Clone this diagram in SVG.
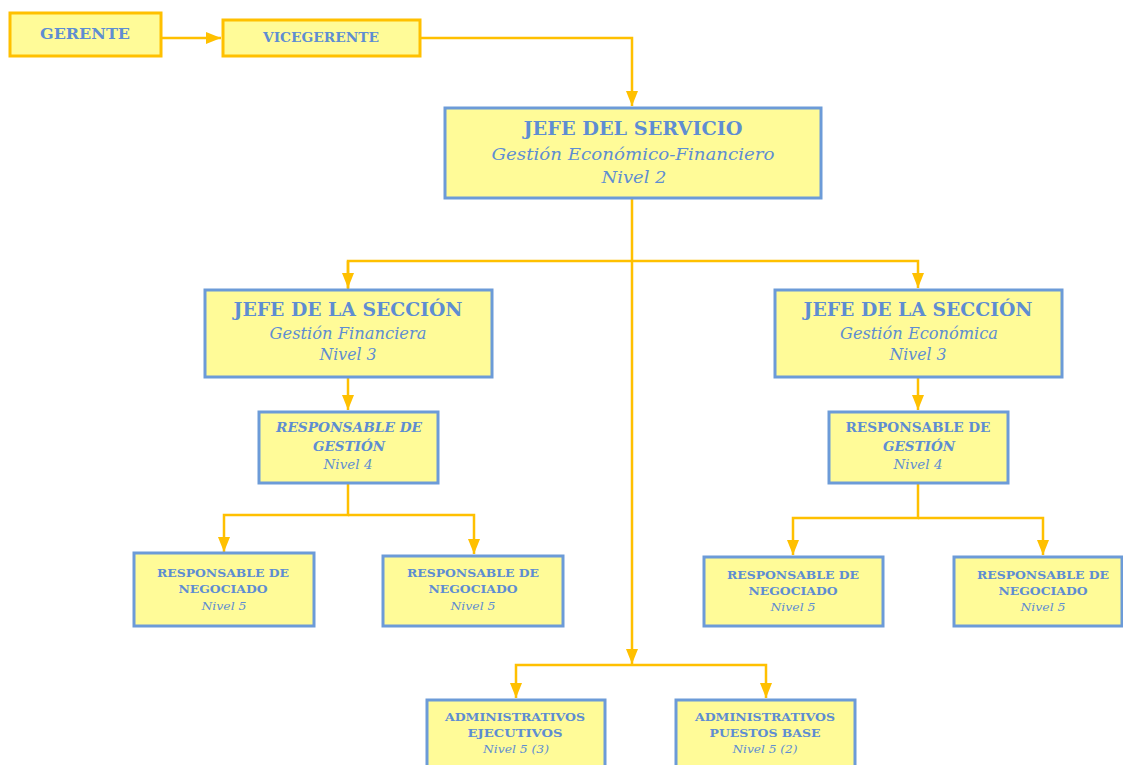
<svg xmlns="http://www.w3.org/2000/svg" width="1123" height="765" viewBox="0 0 1123 765">
<defs>
<marker id="ah" markerUnits="userSpaceOnUse" markerWidth="16" markerHeight="14" refX="15" refY="6" orient="auto">
<path d="M0,0 L15,6 L0,12 Z" fill="#FFC000"/>
</marker>
<style>
.box{fill:#FFFB98;stroke:#6C9BD8;stroke-width:3}
.gbox{fill:#FFFB98;stroke:#FFC000;stroke-width:3}
.con{fill:none;stroke:#FFC000;stroke-width:2.5}
text{font-family:"DejaVu Serif","Liberation Serif",serif;fill:#5E8DD2;text-anchor:middle}
.b{font-weight:bold}
.i{font-style:italic}
.h1{font-size:18px;font-weight:bold}
.s1{font-size:16px;font-style:italic}
.h2{font-size:13px;font-weight:bold}
.s2{font-size:12px;font-style:italic}
.h3{font-size:11px;font-weight:bold}
.s3{font-size:11px;font-style:italic}
</style>
</defs>
<rect width="1123" height="765" fill="#FFFFFF"/>
<g id="connectors">
<path class="con" d="M162,38 H221" marker-end="url(#ah)"/>
<path class="con" d="M420,38 H632 V106" marker-end="url(#ah)"/>
<path class="con" d="M632,198 V664" marker-end="url(#ah)"/>
<path class="con" d="M348,290 V261 H918 V288" marker-end="url(#ah)"/>
<path class="con" d="M348,261 V288" marker-end="url(#ah)"/>
<path class="con" d="M348,377 V410" marker-end="url(#ah)"/>
<path class="con" d="M918,377 V410" marker-end="url(#ah)"/>
<path class="con" d="M348,483 V515 H224 V552" marker-end="url(#ah)"/>
<path class="con" d="M348,515 H474 V554" marker-end="url(#ah)"/>
<path class="con" d="M918,483 V518 H793 V555" marker-end="url(#ah)"/>
<path class="con" d="M918,518 H1043 V555" marker-end="url(#ah)"/>
<path class="con" d="M632,665 H516 V698" marker-end="url(#ah)"/>
<path class="con" d="M632,665 H766 V698" marker-end="url(#ah)"/>
</g>
<g id="gerente">
<rect class="gbox" x="10" y="13" width="151" height="43"/>
<text x="85" y="39" class="b" font-size="14" textLength="90" lengthAdjust="spacingAndGlyphs">GERENTE</text>
</g>
<g id="vicegerente">
<rect class="gbox" x="223" y="20" width="197" height="36"/>
<text x="321" y="42" class="b" font-size="13" textLength="116" lengthAdjust="spacingAndGlyphs">VICEGERENTE</text>
</g>
<g id="jefe-servicio">
<rect class="box" x="445" y="108" width="376" height="90"/>
<text x="633" y="135" class="h1" textLength="219" lengthAdjust="spacingAndGlyphs">JEFE DEL SERVICIO</text>
<text x="633" y="160" class="s1" textLength="283" lengthAdjust="spacingAndGlyphs">Gestión Económico-Financiero</text>
<text x="634" y="183" class="s1" textLength="65" lengthAdjust="spacingAndGlyphs">Nivel 2</text>
</g>
<g id="jefe-seccion-financiera">
<rect class="box" x="205" y="290" width="287" height="87"/>
<text x="348" y="316" class="h1" textLength="229" lengthAdjust="spacingAndGlyphs">JEFE DE LA SECCIÓN</text>
<text x="348" y="339" class="s1" textLength="157" lengthAdjust="spacingAndGlyphs">Gestión Financiera</text>
<text x="348" y="360" class="s1" textLength="57" lengthAdjust="spacingAndGlyphs">Nivel 3</text>
</g>
<g id="jefe-seccion-economica">
<rect class="box" x="775" y="290" width="287" height="87"/>
<text x="918" y="316" class="h1" textLength="229" lengthAdjust="spacingAndGlyphs">JEFE DE LA SECCIÓN</text>
<text x="919" y="339" class="s1" textLength="158" lengthAdjust="spacingAndGlyphs">Gestión Económica</text>
<text x="918" y="360" class="s1" textLength="57" lengthAdjust="spacingAndGlyphs">Nivel 3</text>
</g>
<g id="resp-gestion-financiera">
<rect class="box" x="259" y="412" width="179" height="71"/>
<text x="349" y="432" class="h2 i" textLength="146" lengthAdjust="spacingAndGlyphs">RESPONSABLE DE</text>
<text x="349" y="451" class="h2 i" textLength="72" lengthAdjust="spacingAndGlyphs">GESTIÓN</text>
<text x="348" y="469" class="s2" textLength="49" lengthAdjust="spacingAndGlyphs">Nivel 4</text>
</g>
<g id="resp-gestion-economica">
<rect class="box" x="829" y="412" width="179" height="71"/>
<text x="918" y="432" class="h2" textLength="145" lengthAdjust="spacingAndGlyphs">RESPONSABLE DE</text>
<text x="919" y="451" class="h2 i" textLength="72" lengthAdjust="spacingAndGlyphs">GESTIÓN</text>
<text x="918" y="469" class="s2" textLength="49" lengthAdjust="spacingAndGlyphs">Nivel 4</text>
</g>
<g id="negociado-1">
<rect class="box" x="134" y="553" width="180" height="73"/>
<text x="223" y="577" class="h3" textLength="132" lengthAdjust="spacingAndGlyphs">RESPONSABLE DE</text>
<text x="223" y="593" class="h3" textLength="89" lengthAdjust="spacingAndGlyphs">NEGOCIADO</text>
<text x="224" y="610" class="s3" textLength="45" lengthAdjust="spacingAndGlyphs">Nivel 5</text>
</g>
<g id="negociado-2">
<rect class="box" x="383" y="556" width="180" height="70"/>
<text x="473" y="577" class="h3" textLength="132" lengthAdjust="spacingAndGlyphs">RESPONSABLE DE</text>
<text x="473" y="593" class="h3" textLength="89" lengthAdjust="spacingAndGlyphs">NEGOCIADO</text>
<text x="473" y="610" class="s3" textLength="45" lengthAdjust="spacingAndGlyphs">Nivel 5</text>
</g>
<g id="negociado-3">
<rect class="box" x="704" y="557" width="179" height="69"/>
<text x="793" y="579" class="h3" textLength="132" lengthAdjust="spacingAndGlyphs">RESPONSABLE DE</text>
<text x="793" y="595" class="h3" textLength="89" lengthAdjust="spacingAndGlyphs">NEGOCIADO</text>
<text x="793" y="611" class="s3" textLength="45" lengthAdjust="spacingAndGlyphs">Nivel 5</text>
</g>
<g id="negociado-4">
<rect class="box" x="954" y="557" width="168" height="69"/>
<text x="1043" y="579" class="h3" textLength="132" lengthAdjust="spacingAndGlyphs">RESPONSABLE DE</text>
<text x="1043" y="595" class="h3" textLength="89" lengthAdjust="spacingAndGlyphs">NEGOCIADO</text>
<text x="1043" y="611" class="s3" textLength="45" lengthAdjust="spacingAndGlyphs">Nivel 5</text>
</g>
<g id="admin-ejecutivos">
<rect class="box" x="427" y="700" width="178" height="75"/>
<text x="515" y="721" class="h3" textLength="140" lengthAdjust="spacingAndGlyphs">ADMINISTRATIVOS</text>
<text x="515" y="737" class="h3" textLength="95" lengthAdjust="spacingAndGlyphs">EJECUTIVOS</text>
<text x="516" y="753" class="s3" textLength="66" lengthAdjust="spacingAndGlyphs">Nivel 5 (3)</text>
</g>
<g id="admin-puestos-base">
<rect class="box" x="676" y="700" width="179" height="75"/>
<text x="765" y="721" class="h3" textLength="140" lengthAdjust="spacingAndGlyphs">ADMINISTRATIVOS</text>
<text x="765" y="737" class="h3" textLength="111" lengthAdjust="spacingAndGlyphs">PUESTOS BASE</text>
<text x="765" y="753" class="s3" textLength="65" lengthAdjust="spacingAndGlyphs">Nivel 5 (2)</text>
</g>
</svg>
